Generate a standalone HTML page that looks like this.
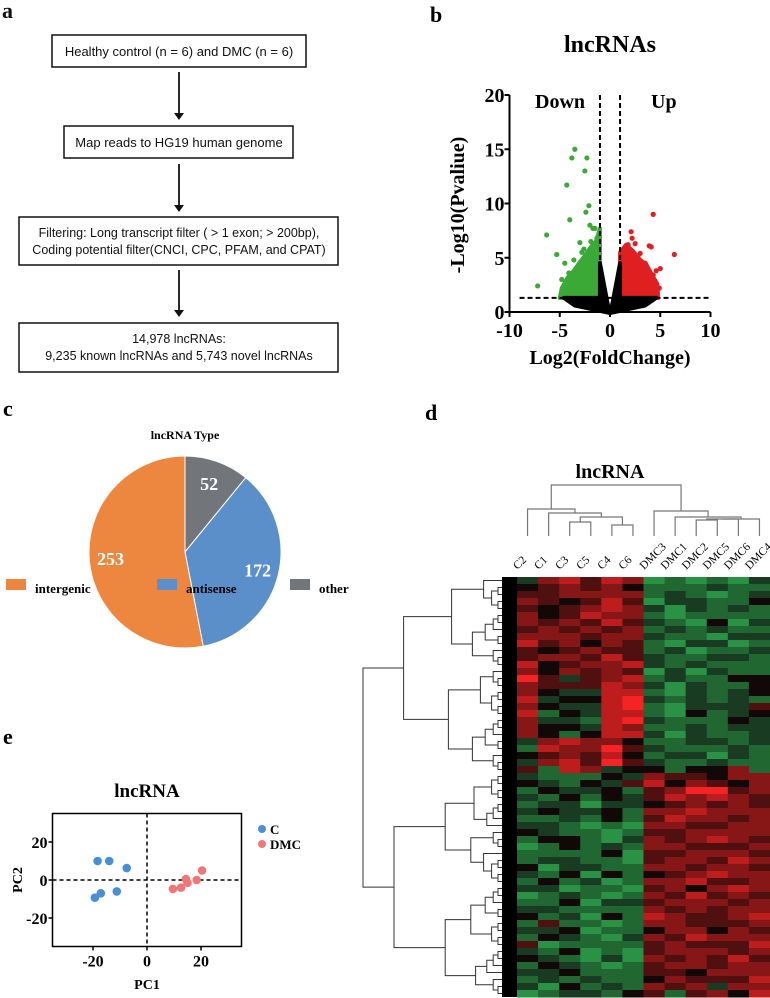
<!DOCTYPE html>
<html><head><meta charset="utf-8"><style>
body{margin:0;background:#fff;}
svg{display:block;}
.serif{font-family:"Liberation Serif",serif;font-weight:bold;}
.sans{font-family:"Liberation Sans",sans-serif;}
</style></head><body>
<svg id="fig" width="770" height="998" viewBox="0 0 770 998" xmlns="http://www.w3.org/2000/svg">
<g class="sans" font-size="13" fill="#111">
<text class="serif" x="2" y="18" font-size="22">a</text>
<rect x="52" y="35" width="254" height="32" fill="none" stroke="#111" stroke-width="1.5"/>
<text x="179" y="56" text-anchor="middle">Healthy control (n = 6) and DMC (n = 6)</text>
<rect x="64" y="126" width="229" height="32" fill="none" stroke="#111" stroke-width="1.5"/>
<text x="179" y="147" text-anchor="middle">Map reads to HG19 human genome</text>
<rect x="19" y="217" width="319" height="48" fill="none" stroke="#111" stroke-width="1.5"/>
<text x="179" y="237" text-anchor="middle" font-size="12.5">Filtering: Long transcript filter ( &gt; 1 exon;  &gt; 200bp),</text>
<text x="179" y="254" text-anchor="middle" font-size="12.5">Coding potential filter(CNCI, CPC, PFAM, and CPAT)</text>
<rect x="19" y="323" width="319" height="49" fill="none" stroke="#111" stroke-width="1.5"/>
<text x="179" y="343" text-anchor="middle" font-size="12.5">14,978 lncRNAs:</text>
<text x="179" y="360" text-anchor="middle" font-size="12.5">9,235 known lncRNAs and 5,743 novel lncRNAs</text>
<g stroke="#111" stroke-width="1.8">
<line x1="179" y1="72" x2="179" y2="114"/><line x1="179" y1="164" x2="179" y2="206"/><line x1="179" y1="270" x2="179" y2="311"/>
</g>
<g fill="#111">
<polygon points="174,113 184,113 179,120"/><polygon points="174,205 184,205 179,212"/><polygon points="174,310 184,310 179,317"/>
</g>
</g>

<g id="volcano" class="serif">
<text x="430" y="22" font-size="22">b</text>
<text x="610" y="52" font-size="24" text-anchor="middle">lncRNAs</text>
<text x="535" y="108" font-size="20">Down</text>
<text x="651" y="108" font-size="20">Up</text>
<text x="610" y="364" font-size="20" text-anchor="middle">Log2(FoldChange)</text>
<text transform="translate(464,205) rotate(-90)" font-size="20" text-anchor="middle">-Log10(Pvaliue)</text>
</g>

<g id="pie" class="serif">
<text x="3" y="416" font-size="22">c</text>
<text x="185" y="439" font-size="12" text-anchor="middle">lncRNA Type</text>
</g>

<g id="heat" class="serif">
<text x="425" y="420" font-size="22">d</text>
<text x="610" y="478" font-size="20" text-anchor="middle">lncRNA</text>
</g>

<g id="pca" class="serif">
<text x="3" y="744" font-size="22">e</text>
<text x="147" y="797" font-size="19" text-anchor="middle">lncRNA</text>
<text transform="translate(22,880) rotate(-90)" font-size="14" text-anchor="middle">PC2</text>
<text x="147" y="989" font-size="14" text-anchor="middle">PC1</text>
</g>
</svg>
<script>
// ---------- Volcano data ----------
const volXTicks = [-10,-5,0,5,10];
const volYTicks = [0,5,10,15,20];
const greenX = [-3.5,-3.8,-2.3,-2.5,-4.3,-2.1,-2.4,-4.0,-6.3,-7.2,-5.3,-4.5,-2.0,-1.5,-3.0,-1.7,-2.8,-3.6,-1.3,-4.8,-3.2,-4.1,-2.6,-1.9,-3.9];
const greenY = [15.0,14.2,14.2,13.0,11.7,9.8,9.2,8.5,7.1,2.4,5.3,4.5,8.0,7.7,6.4,7.7,5.5,4.8,6.8,3.0,4.2,3.6,5.8,6.5,2.2];
const redX = [4.3,2.1,6.4,4.1,3.9,5.0,4.3,2.5,1.8,3.0,4.6,3.5,2.2,1.4,3.8,4.9,2.8];
const redY = [9.0,7.4,5.3,6.0,6.1,4.0,3.4,6.3,6.2,5.4,3.8,4.5,6.8,5.8,2.6,2.2,5.0];
const greenCloudX = [-1,-1,-1.4,-1.9,-2.5,-3,-3.6,-4.2,-4.8,-5];
const greenCloudY = [1.3,7.7,6.5,6,5.2,4.6,3.8,3.2,2.2,1.3];
const redCloudX = [1,1,1.6,2.3,3,3.6,4.2,4.7,4.8];
const redCloudY = [1.3,5.5,6.2,5.6,4.8,4.4,3.4,2.6,1.3];
const blackCloudX = [-4.6,-1,-1,-0.2,0,0.2,1,1,4.6,3.5,1.5,0,-1.5,-3.5];
const blackCloudY = [1.3,1.3,4.5,0.6,0.4,0.6,4.5,1.3,1.3,0.6,0.2,-0.1,0.2,0.6];
const pThreshold = 1.3, fcThreshold = 1;

// ---------- Pie data ----------
const pieLabels = ["other","antisense","intergenic"];
const pieValues = [52,172,253];
const pieColors = ["#72767b","#5b8fc9","#ed8740"];

// ---------- Heatmap data ----------
const heatCols = ["C2","C1","C3","C5","C4","C6","DMC3","DMC1","DMC2","DMC5","DMC6","DMC4"];
const heatRows = [
"367576121213","456564222322","556666232123","654575133224","545676313232","645766212222",
"656575321413","565656232322","666566322133","756465213312","545655231223","566575322332",
"745667323222","646565131322","853567232244","655576313224","643377213234","734478323232",
"643378213335","724377214234","633278322243","644376223233","642477313223","367664223323",
"276685322232","456574233132","367585322322","527634424462",
"322243655466","432435746546","243342568856","324243576765","233133456565","343342667666",
"223242576656","332121665566","432212556666","244213656765","124232665556","222241556665",
"233221566576","413322665665","324142456766","242312667556","331221564676","123212657565",
"224133566656","332222656566","423142765567","252212665556","334122466465","243213657666",
"512222565557","324121566656","432131656575","243212566566","334222554666","232322465557",
"314232656366","123324525647"];

// ---------- PCA data ----------
const pcaTicks = [-20,0,20];
const cX = [-18.3,-14,-7.5,-19.3,-17.1,-11.2];
const cY = [10,10,6.3,-9.3,-7,-6];
const dmcX = [9.6,12.6,14.4,15,18.4,20.4];
const dmcY = [-4.7,-4,0.5,-1.5,0,5];

const NS="http://www.w3.org/2000/svg";
function mk(parent, tag, attrs){const e=document.createElementNS(NS,tag);for(const k in attrs)e.setAttribute(k,attrs[k]);parent.appendChild(e);return e;}

(function(){
const g=document.getElementById('volcano');
const sx=v=>610+v*10.05, sy=v=>312-v*10.85;
const poly=(xs,ys,fill,name)=>{const p=mk(g,'polygon',{points:xs.map((x,i)=>sx(x)+','+sy(ys[i])).join(' '),fill:fill,stroke:fill,'stroke-width':4,'stroke-linejoin':'round'});

};
poly(greenCloudX,greenCloudY,'#3aa935','green-cloud');
poly(redCloudX,redCloudY,'#e02020','red-cloud');
poly(blackCloudX,blackCloudY,'#000','black-cloud');
greenX.forEach((x,i)=>{const c=mk(g,'circle',{cx:sx(x),cy:sy(greenY[i]),r:2.6,fill:'#3aa935'});

});
redX.forEach((x,i)=>{const c=mk(g,'circle',{cx:sx(x),cy:sy(redY[i]),r:2.6,fill:'#e02020'});

});
const dash={stroke:'#000','stroke-width':2,'stroke-dasharray':'5,3'};
let l=mk(g,'line',Object.assign({x1:sx(-fcThreshold),x2:sx(-fcThreshold),y1:sy(20),y2:sy(0)},dash));


l=mk(g,'line',Object.assign({x1:sx(fcThreshold),x2:sx(fcThreshold),y1:sy(20),y2:sy(0)},dash));


l=mk(g,'line',Object.assign({x1:sx(-9),x2:sx(10),y1:sy(pThreshold),y2:sy(pThreshold)},dash));


l=mk(g,'line',{x1:sx(-10),x2:sx(-10),y1:sy(20),y2:sy(0),stroke:'#000','stroke-width':2});


l=mk(g,'line',{x1:sx(-10),x2:sx(10),y1:sy(0),y2:sy(0),stroke:'#000','stroke-width':2});


volYTicks.forEach(v=>{mk(g,'line',{x1:sx(-10)-5,x2:sx(-10),y1:sy(v),y2:sy(v),stroke:'#000','stroke-width':2});
const t=mk(g,'text',{x:sx(-10)-5,y:sy(v)+7,'font-size':20,'text-anchor':'end'});t.textContent=v;

});
volXTicks.forEach(v=>{mk(g,'line',{x1:sx(v),x2:sx(v),y1:sy(0),y2:sy(0)+5,stroke:'#000','stroke-width':2});
const t=mk(g,'text',{x:sx(v),y:sy(0)+25,'font-size':20,'text-anchor':'middle'});t.textContent=v;

});
})();

(function(){
const g=document.getElementById('pie');
const cx=185,cy=552,r=96,tot=pieValues.reduce((a,b)=>a+b,0);
let a0=0;
pieValues.forEach((v,i)=>{const a1=a0+v/tot*2*Math.PI;
const p=(a)=>[cx+r*Math.sin(a),cy-r*Math.cos(a)];
const [x0,y0]=p(a0),[x1,y1]=p(a1);
const s=mk(g,'path',{d:`M${cx},${cy}L${x0},${y0}A${r},${r} 0 ${a1-a0>Math.PI?1:0} 1 ${x1},${y1}Z`,fill:pieColors[i],stroke:'#fff','stroke-width':1});


const am=(a0+a1)/2, lr=r*(i==0?0.75:0.78);
const t=mk(g,'text',{x:cx+lr*Math.sin(am),y:cy-lr*Math.cos(am)+6,'font-size':18,'text-anchor':'middle',fill:'#fff'});t.textContent=v;


a0=a1;});
const leg=[["intergenic",2,"#ed8740",6],["antisense",1,"#5b8fc9",157],["other",0,"#72767b",290]];
leg.forEach(([n,i,c,x])=>{const r2=mk(g,'rect',{x:x,y:579,width:20,height:11,fill:c});


const t=mk(g,'text',{x:x+29,y:593,'font-size':13});t.textContent=pieLabels[i];

});
})();

(function(){
const g=document.getElementById('heat');
const x0=517,x1=770,y0=577,y1=997,nc=heatCols.length,nr=heatRows.length;
const cw=(x1-x0)/nc,rh=(y1-y0)/nr;
const col=(v)=>{v=v-4;if(v>0){const k=v/4;return `rgb(${Math.round(25+220*k)},${Math.round(10+25*k)},${Math.round(10+25*k)})`;}
if(v<0){const k=-v/4;return `rgb(${Math.round(15+35*k)},${Math.round(15+175*k)},${Math.round(15+70*k)})`;}return '#120808';};
heatRows.forEach((row,ri)=>{for(let ci=0;ci<nc;ci++){const c=mk(g,'rect',{x:x0+ci*cw,y:y0+ri*rh,width:cw+0.5,height:rh+0.5,fill:col(+row[ci])});

}});
heatCols.forEach((n,ci)=>{const x=x0+(ci+0.5)*cw;const t=mk(g,'text',{transform:`translate(${x-10},${570}) rotate(-45)`,'font-size':11.5,'font-weight':'normal'});t.textContent=n;

});
const cx=i=>x0+(i+0.5)*cw;
const st={stroke:'#777','stroke-width':1.2,fill:'none'};
const U=(a,b,ya,yb,h,name)=>{const p=mk(g,'path',Object.assign({d:`M${a},${ya}V${h}H${b}V${yb}`},st));

};
const lb=536;
U(cx(2),cx(3),lb,lb,522,'col-dendro-branch');U(cx(4),cx(5),lb,lb,525,'col-dendro-branch');
U((cx(2)+cx(3))/2,(cx(4)+cx(5))/2,522,525,517,'col-dendro-branch');
const m1=((cx(2)+cx(3))/2+(cx(4)+cx(5))/2)/2;
U(cx(1),m1,lb,517,513,'col-dendro-branch');const m2=(cx(1)+m1)/2;
U(cx(0),m2,lb,513,509,'col-dendro-branch');const mL=(cx(0)+m2)/2;
U(cx(8),cx(9),lb,lb,520,'col-dendro-branch');const r1=(cx(8)+cx(9))/2;
U(r1,cx(10),520,lb,519,'col-dendro-branch');const r2=(r1+cx(10))/2;
U(r2,cx(11),519,lb,519,'col-dendro-branch');const r3=(r2+cx(11))/2;
U(cx(7),r3,lb,519,517,'col-dendro-branch');const r4=(cx(7)+r3)/2;
U(cx(6),r4,lb,517,511,'col-dendro-branch');const mR=(cx(6)+r4)/2;
U(mL,mR,509,511,485,'col-dendro-root');
const strip=mk(g,'rect',{x:502,y:y0,width:15,height:y1-y0,fill:'#000'});


const ry=i=>y0+(i+0.5)*rh;
const rst={stroke:'#333','stroke-width':1,fill:'none'};
function tree(a,b,depth){
 if(b-a<=1){return [ry(a),502];}
 const m=Math.floor((a+b)/2)+((a*7+b*3)%3-1);
 const mid=Math.min(Math.max(m,a+1),b-1);
 const L=tree(a,mid,depth+1),R=tree(mid,b,depth+1);
 const x=Math.min(L[1],R[1])-Math.max(4,(b-a)*1.6);
 const p=mk(g,'path',Object.assign({d:`M${L[1]},${L[0]}H${x}V${R[0]}H${R[1]}`},rst));
 
 
 return [(L[0]+R[0])/2,x];}
const T=tree(0,28,0),B=tree(28,nr,0);
const root=mk(g,'path',Object.assign({d:`M${T[1]},${T[0]}H363V${B[0]}H${B[1]}`},rst));


})();

(function(){
const g=document.getElementById('pca');
const sx=v=>147+v*2.7, sy=v=>880-v*1.9;
const box=mk(g,'rect',{x:sx(-35),y:sy(35),width:sx(35)-sx(-35),height:sy(-35)-sy(35),fill:'none',stroke:'#000','stroke-width':1.5});


const d={stroke:'#000','stroke-width':1.5,'stroke-dasharray':'4,3'};
let l=mk(g,'line',Object.assign({x1:sx(-35),x2:sx(35),y1:sy(0),y2:sy(0)},d));


l=mk(g,'line',Object.assign({x1:sx(0),x2:sx(0),y1:sy(35),y2:sy(-35)},d));


pcaTicks.forEach(v=>{mk(g,'line',{x1:sx(-35)-4,x2:sx(-35),y1:sy(v),y2:sy(v),stroke:'#000','stroke-width':1.5});
let t=mk(g,'text',{x:sx(-35)-5,y:sy(v)+6,'font-size':16,'text-anchor':'end'});t.textContent=v;


mk(g,'line',{x1:sx(v),x2:sx(v),y1:sy(-35),y2:sy(-35)+4,stroke:'#000','stroke-width':1.5});
t=mk(g,'text',{x:sx(v),y:sy(-35)+20,'font-size':16,'text-anchor':'middle'});t.textContent=v;

});
cX.forEach((x,i)=>{const c=mk(g,'circle',{cx:sx(x),cy:sy(cY[i]),r:4.3,fill:'#4a8fd6'});

});
dmcX.forEach((x,i)=>{const c=mk(g,'circle',{cx:sx(x),cy:sy(dmcY[i]),r:4.3,fill:'#ef7777'});

});
[["C","#4a8fd6",829],["DMC","#ef7777",844]].forEach(([n,c,y])=>{const dt=mk(g,'circle',{cx:262,cy:y,r:4,fill:c});


const t=mk(g,'text',{x:270,y:y+5,'font-size':13});t.textContent=n;

});
})();
</script>
</body></html>
